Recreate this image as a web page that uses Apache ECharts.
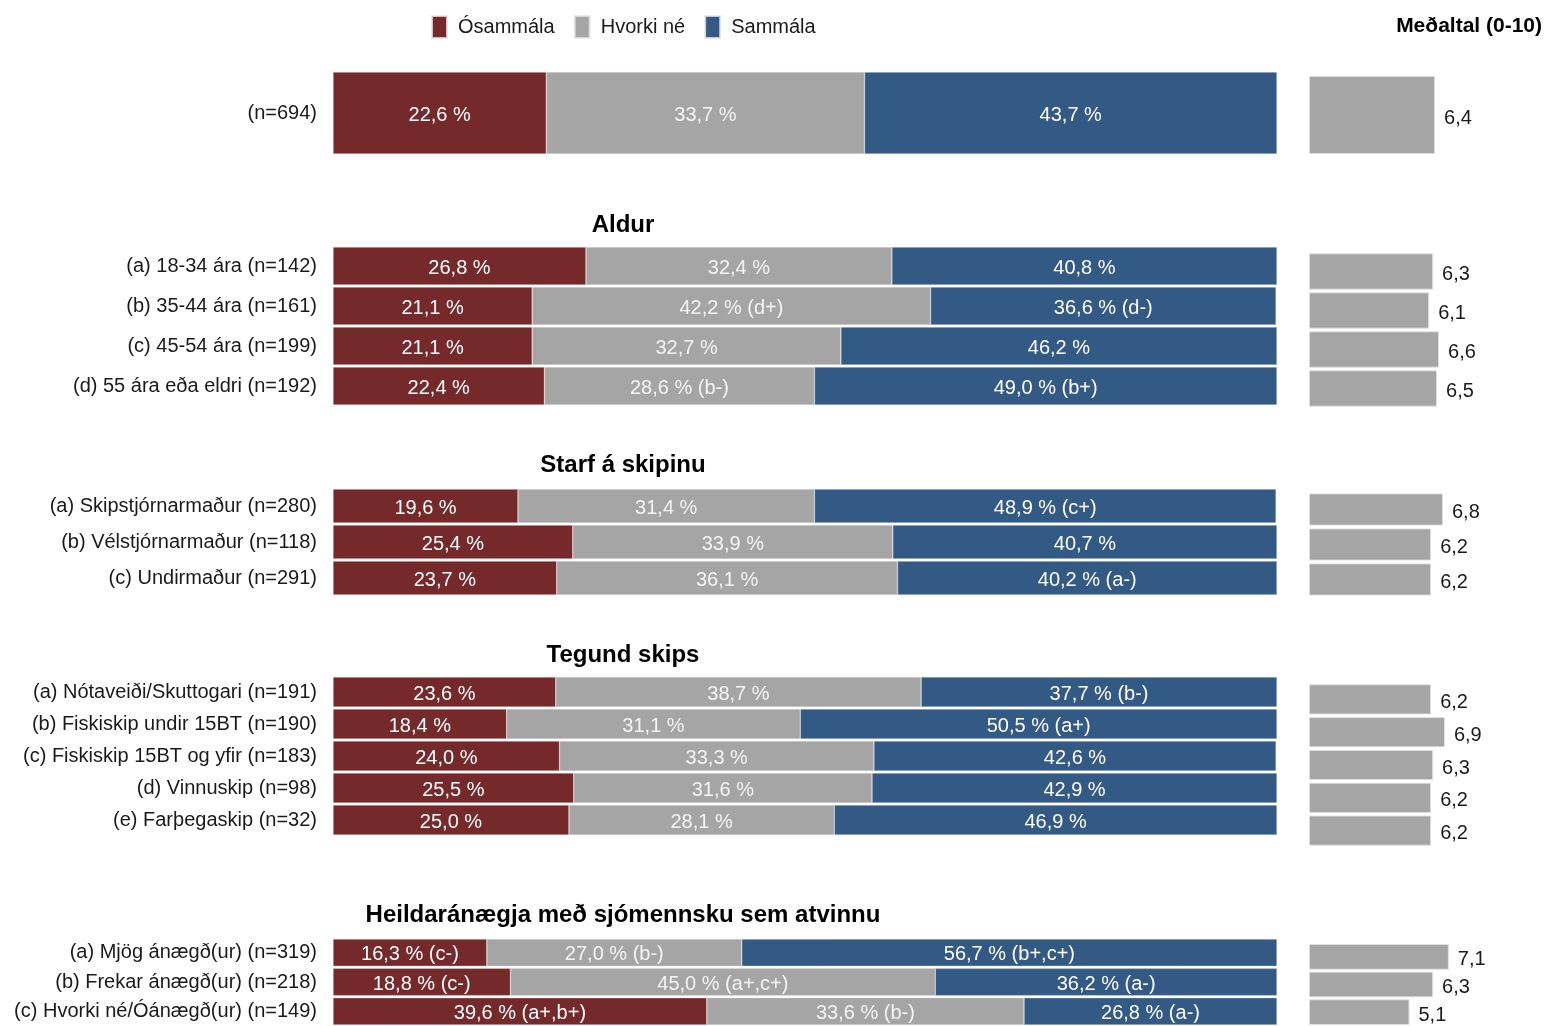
<!DOCTYPE html>
<html><head><meta charset="utf-8">
<script src="https://cdn.jsdelivr.net/npm/echarts@6/dist/echarts.min.js"></script>
<style>html,body{margin:0;padding:0;background:#fff}#c{width:1546px;height:1026px}</style>
</head><body><div id="c"></div>
<script>
const groupTitles = ['', 'Aldur', 'Starf á skipinu', 'Tegund skips', 'Heildaránægja með sjómennsku sem atvinnu'];
const groupOf = [0, 1,1,1,1, 2,2,2, 3,3,3,3,3, 4,4,4];
const categories = [
  '(n=694)',
  '(a) 18-34 ára (n=142)', '(b) 35-44 ára (n=161)', '(c) 45-54 ára (n=199)', '(d) 55 ára eða eldri (n=192)',
  '(a) Skipstjórnarmaður (n=280)', '(b) Vélstjórnarmaður (n=118)', '(c) Undirmaður (n=291)',
  '(a) Nótaveiði/Skuttogari (n=191)', '(b) Fiskiskip undir 15BT (n=190)', '(c) Fiskiskip 15BT og yfir (n=183)', '(d) Vinnuskip (n=98)', '(e) Farþegaskip (n=32)',
  '(a) Mjög ánægð(ur) (n=319)', '(b) Frekar ánægð(ur) (n=218)', '(c) Hvorki né/Óánægð(ur) (n=149)'
];
const osammala = [22.6, 26.8, 21.1, 21.1, 22.4, 19.6, 25.4, 23.7, 23.6, 18.4, 24.0, 25.5, 25.0, 16.3, 18.8, 39.6];
const hvorki   = [33.7, 32.4, 42.2, 32.7, 28.6, 31.4, 33.9, 36.1, 38.7, 31.1, 33.3, 31.6, 28.1, 27.0, 45.0, 33.6];
const sammala  = [43.7, 40.8, 36.6, 46.2, 49.0, 48.9, 40.7, 40.2, 37.7, 50.5, 42.6, 42.9, 46.9, 56.7, 36.2, 26.8];
const osNote = ['', '', '', '', '', '', '', '', '', '', '', '', '', '(c-)', '(c-)', '(a+,b+)'];
const hvNote = ['', '', '(d+)', '', '(b-)', '', '', '', '', '', '', '', '', '(b-)', '(a+,c+)', '(b-)'];
const saNote = ['', '', '(d-)', '', '(b+)', '(c+)', '', '(a-)', '(b-)', '(a+)', '', '', '', '(b+,c+)', '(a-)', '(a-)'];
const means = [6.4, 6.3, 6.1, 6.6, 6.5, 6.8, 6.2, 6.2, 6.2, 6.9, 6.3, 6.2, 6.2, 7.1, 6.3, 5.1];
const seriesNames = ['Ósammála', 'Hvorki né', 'Sammála'];
const colors = ['#76292A', '#A5A5A5', '#335985'];

const FONT = "'Liberation Sans', Arial, sans-serif";
// layout (pixels)
const barGrids = [
  {top: 72, height: 82, gap: '0%'},
  {top: 246, height: 160, gap: '5%'},
  {top: 488, height: 108, gap: '6%'},
  {top: 676, height: 160, gap: '6%'},
  {top: 938, height: 90, gap: '7%'}
];
const meanGrids = [
  {top: 76, height: 78, gap: '0%'},
  {top: 252, height: 156, gap: '7%'},
  {top: 492, height: 105, gap: '8%'},
  {top: 683, height: 164, gap: '8%'},
  {top: 943, height: 84, gap: '7%'}
];
const titleY = [0, 225, 465, 655, 915];

const fmt = v => v.toFixed(1).replace('.', ',');
const nG = groupTitles.length;
const grid = [], xAxis = [], yAxis = [], series = [];
for (let g = 0; g < nG; g++) {
  const idx = [];
  groupOf.forEach((gg, i) => { if (gg === g) idx.push(i); });
  const cats = idx.map(i => categories[i]);
  grid.push({left: 333, right: 269, top: barGrids[g].top, height: barGrids[g].height});
  xAxis.push({type: 'value', gridIndex: g, min: 0, max: 100, show: false});
  yAxis.push({type: 'category', gridIndex: g, data: cats, inverse: true,
    axisLine: {show: false}, axisTick: {show: false},
    axisLabel: {fontSize: 20, color: '#1a1a1a', fontFamily: FONT, margin: 16, padding: [4, 0, 0, 0]}});
  const arrs = [osammala, hvorki, sammala];
  const notes = [osNote, hvNote, saNote];
  for (let s = 0; s < 3; s++) {
    series.push({
      name: seriesNames[s], type: 'bar', stack: 'st' + g,
      xAxisIndex: g, yAxisIndex: g,
      barCategoryGap: barGrids[g].gap,
      itemStyle: {color: colors[s], borderColor: 'rgba(230,230,230,0.8)', borderWidth: 0.5},
      label: {show: true, position: 'inside', offset: [0, 2], color: s === 1 ? '#f4f4f4' : '#ffffff', fontSize: 20, fontFamily: FONT,
        formatter: p => fmt(p.value) + ' %' + (notes[s][idx[p.dataIndex]] ? ' ' + notes[s][idx[p.dataIndex]] : '')},
      data: idx.map(i => arrs[s][i])
    });
  }
}
for (let g = 0; g < nG; g++) {
  const idx = [];
  groupOf.forEach((gg, i) => { if (gg === g) idx.push(i); });
  const gi = nG + g;
  grid.push({left: 1309, right: 40, top: meanGrids[g].top, height: meanGrids[g].height});
  xAxis.push({type: 'value', gridIndex: gi, min: 0, max: 10, show: false});
  yAxis.push({type: 'category', gridIndex: gi, data: idx.map(i => categories[i]), inverse: true, show: false});
  series.push({
    name: 'Meðaltal', type: 'bar', xAxisIndex: gi, yAxisIndex: gi,
    barCategoryGap: meanGrids[g].gap,
    itemStyle: {color: '#A5A5A5', borderColor: 'rgba(225,225,225,0.9)', borderWidth: 1},
    label: {show: true, position: 'right', distance: 9, offset: [0, 3], color: '#1a1a1a', fontSize: 20, fontFamily: FONT,
      formatter: p => fmt(p.value)},
    data: idx.map(i => means[i])
  });
}
const graphic = [];
for (let g = 1; g < nG; g++) {
  graphic.push({type: 'text', x: 623, y: titleY[g], style: {text: groupTitles[g], font: "bold 24px " + FONT, fill: '#000', align: 'center', verticalAlign: 'middle'}});
}
graphic.push({type: 'text', x: 1542, y: 26, style: {text: 'Meðaltal (0-10)', font: "bold 21px " + FONT, fill: '#000', align: 'right', verticalAlign: 'middle'}});

const chart = echarts.init(document.getElementById('c'), null, {renderer: 'canvas'});
chart.setOption({
  animation: false,
  textStyle: {fontFamily: FONT},
  legend: {data: seriesNames, left: 431, top: 15, padding: 0, icon: 'rect', itemWidth: 15, itemHeight: 22, itemGap: 19,
    selectedMode: false, textStyle: {fontSize: 20, color: '#1a1a1a', fontFamily: FONT, padding: [0, 0, 0, 6]}},
  grid, xAxis, yAxis, series, graphic
});
</script></body></html>
